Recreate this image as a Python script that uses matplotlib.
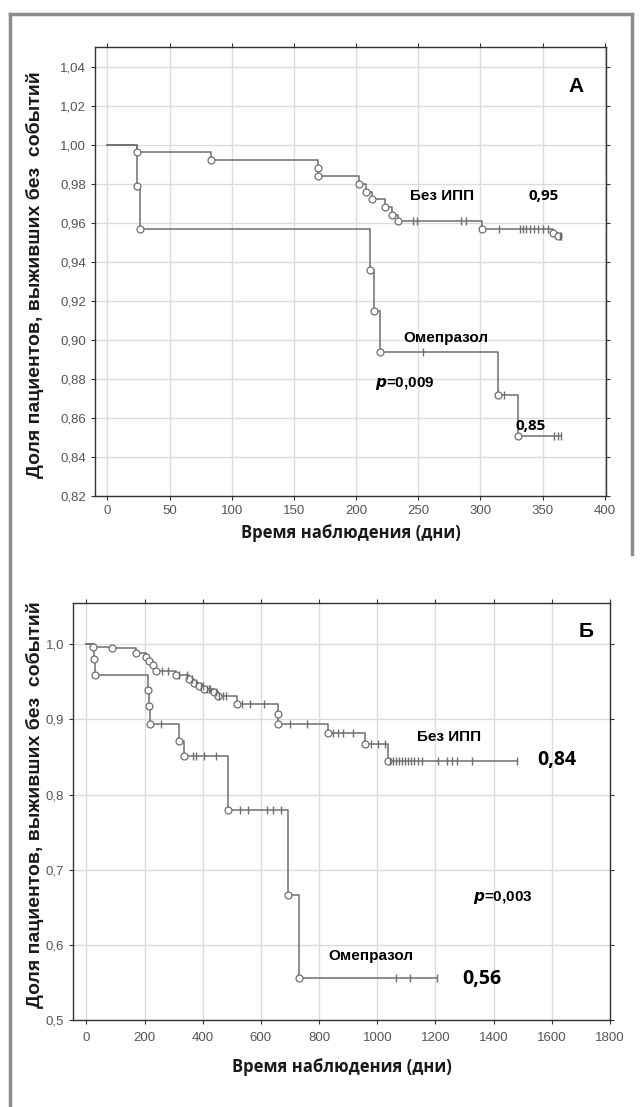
import numpy as np
import matplotlib
matplotlib.use('Agg')
import matplotlib.pyplot as plt

plt.rcParams['font.family'] = ['Liberation Sans', 'DejaVu Sans']

# ---- panel A (1 year) ----
a_noppi_t = [24, 83, 169, 169, 202, 208, 213, 223, 229, 234, 301, 358, 362]
a_noppi_s = [0.996, 0.992, 0.988, 0.984, 0.980, 0.976, 0.972, 0.968, 0.964, 0.961, 0.957, 0.955, 0.953]
a_noppi_cens = [246, 249, 284, 288, 315, 332, 334, 337, 340, 343, 346, 350, 354, 364, 365]

a_omep_t = [24, 26, 211, 214, 219, 314, 330]
a_omep_s = [0.979, 0.957, 0.936, 0.915, 0.894, 0.872, 0.851]
a_omep_cens = [254, 319, 359, 362, 365]

a_xticks = [0, 50, 100, 150, 200, 250, 300, 350, 400]
a_yticks = [0.82, 0.84, 0.86, 0.88, 0.90, 0.92, 0.94, 0.96, 0.98, 1.00, 1.02, 1.04]

# ---- panel B (whole follow-up) ----
b_noppi_t = [22, 87, 172, 204, 215, 229, 241, 307, 353, 370, 388, 405, 440, 451, 518, 658, 658, 830, 957, 1037]
b_noppi_s = [0.997, 0.9955, 0.988, 0.983, 0.978, 0.972, 0.965, 0.959, 0.954, 0.949, 0.945, 0.940, 0.936,
             0.931, 0.920, 0.907, 0.894, 0.882, 0.867, 0.845]
b_noppi_cens = [260, 280, 320, 345, 362, 378, 395, 400, 415, 420, 425, 445, 455, 470, 480, 534, 563, 612,
                700, 759, 847, 864, 881, 916, 980, 1003, 1026, 1045, 1055, 1065, 1075, 1085, 1095, 1105,
                1115, 1125, 1140, 1155, 1210, 1239, 1256, 1273, 1325, 1480]

b_omep_t = [25, 29, 213, 215, 218, 317, 336, 486, 693, 732]
b_omep_s = [0.980, 0.959, 0.939, 0.918, 0.894, 0.871, 0.851, 0.779, 0.667, 0.556]
b_omep_cens = [256, 365, 376, 405, 446, 527, 557, 622, 640, 670, 1066, 1113, 1205]

b_xticks = [0, 200, 400, 600, 800, 1000, 1200, 1400, 1600, 1800]
b_yticks = [0.5, 0.6, 0.7, 0.8, 0.9, 1.0]

ylab = 'Доля пациентов, выживших без  событий'
xlab = 'Время наблюдения (дни)'

line_col = '#6e6e6e'
narrow = ['Liberation Sans Narrow', 'Liberation Sans', 'DejaVu Sans']
calib = ['Open Sans', 'DejaVu Sans']


def km_curve(ax, ev_t, ev_s, cens):
    """draw a Kaplan-Meier step line with event circles and censor ticks"""
    end = max(cens + ev_t)
    t = np.array([0] + ev_t + [end], dtype=float)
    s = np.array([1.0] + ev_s + [ev_s[-1]])
    ax.step(t, s, where='post', color=line_col, lw=1.1, zorder=3)
    ax.plot(ev_t, ev_s, 'o', ms=5, mfc='white', mec=line_col, mew=0.9, zorder=4)
    # censored cases sit on the step line
    idx = np.searchsorted(t, cens, side='right') - 1
    ax.plot(cens, s[idx], '|', ms=6, mew=1.0, color=line_col, zorder=4)


def style_axes(ax, xticks, yticks, fmt, pad):
    ax.set_xticks(xticks)
    ax.set_yticks(yticks)
    ax.set_yticklabels([(fmt % v).replace('.', ',') for v in yticks])
    ax.grid(True, color='#dcdcdc', lw=1.0)
    ax.set_axisbelow(True)
    ax.tick_params(direction='out', length=3, width=0.8, colors='#333333',
                   labelcolor='#555555', labelsize=9.5, top=True, right=True)
    ax.tick_params(axis='x', pad=pad)
    for sp in ax.spines.values():
        sp.set_color('#333333')
        sp.set_linewidth(1.0)
    ax.set_xlabel(xlab, fontsize=12, fontweight='bold', color='#1a1a1a', family=calib)


fig = plt.figure(figsize=(6.41, 11.07), dpi=100)

# panel A
ax1 = fig.add_axes([0.1482, 0.5519, 0.7972, 0.4056])
km_curve(ax1, a_noppi_t, a_noppi_s, a_noppi_cens)
km_curve(ax1, a_omep_t, a_omep_s, a_omep_cens)
ax1.set_xlim(-10, 401)
ax1.set_ylim(0.82, 1.05)
style_axes(ax1, a_xticks, a_yticks, '%.2f', 3.5)
ax1.text(269, 0.9735, 'Без ИПП', fontsize=11, fontweight='bold', ha='center', va='center')
ax1.text(351, 0.9735, '0,95', fontsize=11, fontweight='bold', ha='center', va='center', family=calib)
ax1.text(272, 0.901, 'Омепразол', fontsize=11, fontweight='bold', ha='center', va='center')
ax1.text(239, 0.8777, '$\\boldsymbol{p}$=0,009', fontsize=11, fontweight='bold', ha='center', va='center')
ax1.text(340, 0.856, '0,85', fontsize=11, fontweight='bold', ha='center', va='center', family=calib)
ax1.text(377, 1.030, 'А', fontsize=15, fontweight='bold', ha='center', va='center')
ax1.xaxis.labelpad = 5

# panel B
ax2 = fig.add_axes([0.1139, 0.0786, 0.8377, 0.3767])
km_curve(ax2, b_noppi_t, b_noppi_s, b_noppi_cens)
km_curve(ax2, b_omep_t, b_omep_s, b_omep_cens)
ax2.set_xlim(-46, 1800)
ax2.set_ylim(0.5, 1.055)
style_axes(ax2, b_xticks, b_yticks, '%.1f', 6)
ax2.text(1246, 0.8765, 'Без ИПП', fontsize=11, fontweight='bold', ha='center', va='center')
ax2.text(1618, 0.8466, '0,84', fontsize=14, fontweight='bold', ha='center', va='center', family=calib)
ax2.text(979, 0.585, 'Омепразол', fontsize=11, fontweight='bold', ha='center', va='center')
ax2.text(1431, 0.663, '$\\boldsymbol{p}$=0,003', fontsize=11, fontweight='bold', ha='center', va='center')
ax2.text(1359, 0.554, '0,56', fontsize=14, fontweight='bold', ha='center', va='center', family=calib)
ax2.text(1719, 1.0165, 'Б', fontsize=15, fontweight='bold', ha='center', va='center')
ax2.xaxis.labelpad = 10

# y labels sit at the same distance from the left frame in both panels
fig.text(35 / 641, 1 - 275 / 1107, ylab, rotation=90, ha='center', va='center',
         fontsize=14, fontweight='bold', color='#1a1a1a', family=narrow)
fig.text(35 / 641, 1 - 805 / 1107, ylab, rotation=90, ha='center', va='center',
         fontsize=14, fontweight='bold', color='#1a1a1a', family=narrow)

# grey frame of the figure
fc = '#8c8c8c'
fig.add_artist(plt.Line2D([10 / 641, 10 / 641], [0, 1 - 14 / 1107], color=fc, lw=2.5))
fig.add_artist(plt.Line2D([10 / 641, 632 / 641], [1 - 14 / 1107, 1 - 14 / 1107], color=fc, lw=2.5))
fig.add_artist(plt.Line2D([632 / 641, 632 / 641], [1 - 14 / 1107, 0.5], color=fc, lw=2.5))

plt.savefig('out.png', dpi=100)
